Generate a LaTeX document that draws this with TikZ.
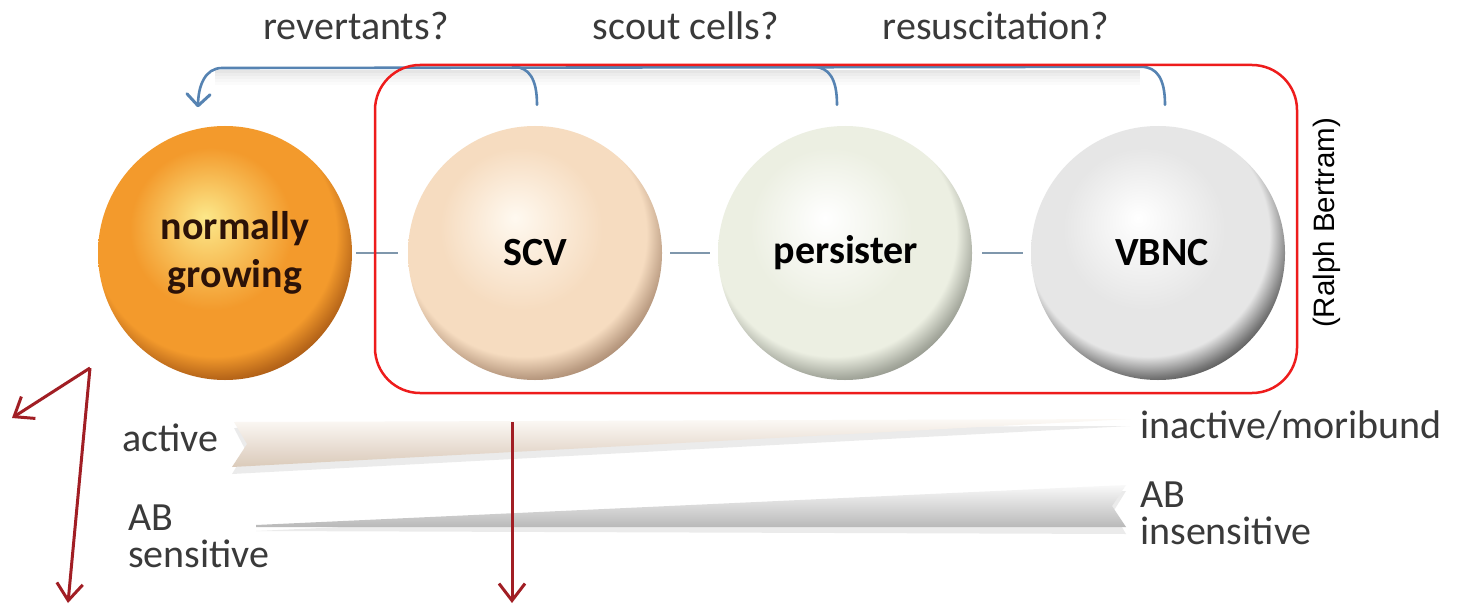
\documentclass[tikz,border=0pt]{standalone}
\usepackage{fontspec}
\setmainfont{Carlito}
\newfontfamily\creditfont{Liberation Sans}
\usetikzlibrary{arrows.meta,calc}

% palette
\definecolor{ngbase}{HTML}{F39A2C}
\definecolor{nghi}{HTML}{FCE88A}
\definecolor{ngrim}{HTML}{8E420C}
\definecolor{scvbase}{HTML}{F6DCC0}
\definecolor{scvhi}{HTML}{FFF9F0}
\definecolor{scvrim}{HTML}{8E6C54}
\definecolor{perbase}{HTML}{ECEFE2}
\definecolor{perhi}{HTML}{FFFFFF}
\definecolor{perrim}{HTML}{70746A}
\definecolor{vbbase}{HTML}{E6E6E6}
\definecolor{vbhi}{HTML}{FFFFFF}
\definecolor{vbrim}{HTML}{1E1E1E}
\definecolor{flowblue}{HTML}{5683B2}
\definecolor{linkgray}{HTML}{7F97AC}
\definecolor{boxred}{HTML}{EE1C1C}
\definecolor{arrred}{HTML}{A11E24}
\definecolor{txtgray}{HTML}{3A3A3A}
\definecolor{ngtext}{HTML}{2C1208}
\definecolor{sphbase}{HTML}{F39A2C}
\definecolor{sphhi}{HTML}{FCE88A}
\definecolor{sphrim}{HTML}{8E420C}

% glossy sphere shading driven by three colours (circle rim at 25bp)
\pgfdeclareradialshading[sphbase,sphhi,sphrim]{sphere}{\pgfpoint{-4bp}{7bp}}{%
  color(0bp)=(sphhi); color(8bp)=(sphbase!50!sphhi); color(16bp)=(sphbase);
  color(24bp)=(sphbase); color(27.5bp)=(sphbase!45!sphrim); color(31bp)=(sphrim);
  color(50bp)=(sphrim)}

\tikzset{
  sphere colors/.code n args={3}{\colorlet{sphbase}{#1}\colorlet{sphhi}{#2}\colorlet{sphrim}{#3}},
  cell/.style={circle, minimum size=254pt, inner sep=0pt, shading=sphere,
    font=\fontsize{40}{48}\selectfont\bfseries, align=center},
  toplabel/.style={font=\fontsize{40}{46}\selectfont, text=txtgray, inner sep=0pt},
  sidelabel/.style={font=\fontsize{40}{37}\selectfont, text=txtgray, inner sep=0pt, align=left, anchor=west},
  link/.style={draw=linkgray, line width=2pt},
  flow/.style={draw=flowblue, line width=2.6pt, line cap=round},
  redarrow/.style={draw=arrred, line width=3pt, -{Straight Barb[length=17pt,width=26pt]}},
}

\begin{document}
\begin{tikzpicture}[x=1pt, y=-1pt]
\useasboundingbox[fill=white] (0,0) rectangle (1458,607);

% ---- gradient wedges ----
\fill[gray!25, opacity=0.6] (234,428) -- (1130,426) -- (232,474) -- (246,451) -- cycle;
\shade[top color=white!95!brown, bottom color=brown!28!white!92!black]
  (234,422) -- (1130,419) -- (232,467) -- (247,444) -- cycle;
\fill[gray!25, opacity=0.6] (256,531) -- (1126,491) -- (1113,512) -- (1126,534) -- cycle;
\shade[top color=white!95!gray, bottom color=gray!55]
  (256,525) -- (1126,485) -- (1112,506) -- (1126,527) -- (256,527) -- cycle;

% ---- cells ----
\node[cell, sphere colors={ngbase}{nghi}{ngrim}, text=ngtext] (ng) at (225,253)
  {\hspace*{20pt}normally\\\hspace*{20pt}growing};
\node[cell, sphere colors={scvbase}{scvhi}{scvrim}] (scv) at (535,253) {SCV};
\node[cell, sphere colors={perbase}{perhi}{perrim}] (per) at (845,253) {\hspace*{2pt}persister};
\node[cell, sphere colors={vbbase}{vbhi}{vbrim}] (vb) at (1158,253) {\hspace*{8pt}VBNC};

% links between neighbouring cells
\draw[link, shorten <=4pt, shorten >=10pt] (ng.east) -- (scv.west);
\draw[link, shorten <=8pt, shorten >=8pt] (scv.east) -- (per.west);
\draw[link, shorten <=10pt, shorten >=8pt] (per.east) -- (vb.west);

% ---- return flow to the growing state ----
\coordinate (fSCV) at ($(scv.north)+(2,-21)$);
\coordinate (fPER) at ($(per.north)+(-8,-21)$);
\coordinate (fVB) at ($(vb.north)+(7,-21)$);
\coordinate (fNG) at ($(ng.north)+(-27,-20)$);

% soft shadow under the horizontal run
\foreach \dy/\op in {72/0.2, 75/0.15, 78/0.1, 81/0.06, 84/0.03}
  \draw[gray, line width=3pt, opacity=\op] (215,\dy) -- (1140,\dy);
\draw[flow] (fVB) .. controls ($(fVB)+(0,-26)$) and ($(fVB)+(-8,-38)$) .. ($(fVB)+(-24,-38)$)
  -- (222,68) .. controls (205,68) and ($(fNG)+(0,-20)$) .. (fNG);
\draw[flow] (fSCV) .. controls ($(fSCV)+(0,-26)$) and ($(fSCV)+(-8,-38)$) .. ($(fSCV)+(-24,-38)$);
\draw[flow] (fPER) .. controls ($(fPER)+(0,-26)$) and ($(fPER)+(-8,-38)$) .. ($(fPER)+(-24,-38)$);
\draw[flowblue, line width=3pt, line cap=round, line join=round]
  ($(fNG)+(-11,-12)$) -- (fNG) -- ($(fNG)+(12,-11)$);

% ---- frame round the non-growing states ----
\draw[boxred, line width=2.5pt, rounded corners=45pt] (375,65) rectangle (1297,393);

% ---- labels ----
\node[toplabel] (lrev) at (356,26) {revertants?};
\node[toplabel] (lsco) at (686,26) {scout cells?};
\node[toplabel] (lres) at (996,26) {resuscitation?};
\node[sidelabel] (lact) at (122,438) {active};
\node[sidelabel] (linact) at (1140,425) {inactive/moribund};
\node[sidelabel] (lsens) at (128,536) {AB\\sensitive};
\node[sidelabel] (linsens) at (1140,513) {AB\\insensitive};
\node[font=\creditfont\fontsize{29.5}{34}\selectfont, rotate=90, inner sep=0pt] (credit) at (1327,223) {(Ralph Bertram)};

% ---- red pointers ----
\coordinate (p0) at (90,368);
\coordinate (p1) at (12,418);
\coordinate (p2) at (68,603);
\coordinate (q0) at (512,422);
\coordinate (q1) at (512,603);
\draw[redarrow] (p0) -- (p1);
\draw[redarrow] (p0) -- (p2);
\draw[redarrow] (q0) -- (q1);
\end{tikzpicture}
\end{document}
